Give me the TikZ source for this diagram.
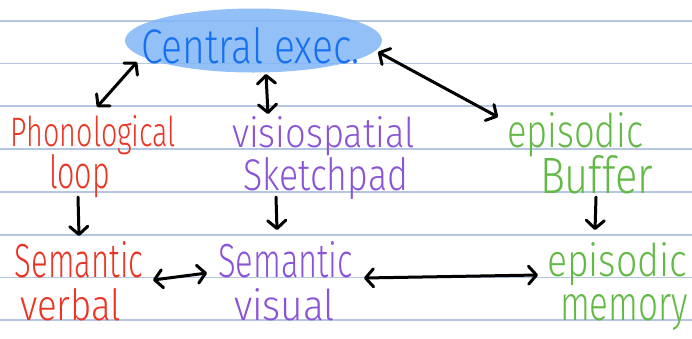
\documentclass[tikz,border=0pt]{standalone}
\usepackage{fontspec}
\setmainfont{Fira Sans Light}
\usetikzlibrary{arrows.meta,shapes.geometric,calc}
\definecolor{ruled}{RGB}{180,198,226}
\definecolor{blobfill}{RGB}{128,182,246}
\definecolor{execblue}{RGB}{22,112,240}
\definecolor{penred}{RGB}{234,52,36}
\definecolor{penpurple}{RGB}{138,84,214}
\definecolor{pengreen}{RGB}{99,185,70}
% word squeezed into a box of given width and height (pt)
\newcommand\hw[3]{\resizebox{#1pt}{#2pt}{#3}}
\begin{document}
\begin{tikzpicture}[x=1pt,y=-1pt,
  word/.style={anchor=base west, inner sep=0pt, outer sep=0pt},
  rule/.style={draw=ruled, line width=1.2pt},
  barb/.tip={Straight Barb[length=8pt,width=18pt,round]},
  link/.style={line width=3pt, line cap=round, line join=round, barb-barb},
  down/.style={line width=3pt, line cap=round, line join=round, -barb}]
\useasboundingbox (0,0) rectangle (692,338);
\clip (0,0) rectangle (692,338);

% ruled paper
\foreach \y in {21,63.5,106,149,192,235,277.5,320}
  \draw[rule] (0,\y) -- (692,\y);

% highlighted central executive
\node[ellipse, fill=blobfill, fill opacity=0.85, minimum width=257pt,
      minimum height=64pt, inner sep=0pt] (blob) at (253.5,40.5) {};
\node[word, text=execblue] (ce) at (141,63) {\hw{219}{36}{Central exec.}};

% second row
\node[word, text=penred] (phon) at (11,146) {\hw{165}{31}{Phonological}};
\node[word, text=penred] (loop) at (49,188) {\hw{61}{34}{loop}};
\node[word, text=penpurple] (visio) at (232,147) {\hw{183}{31}{visiospatial}};
\node[word, text=penpurple] (sketch) at (243,190) {\hw{165}{33}{Sketchpad}};
\node[word, text=pengreen] (epi) at (507,147) {\hw{136}{35}{episodic}};
\node[word, text=pengreen] (buffer) at (540,193) {\hw{113}{38}{Buffer}};

% third row
\node[word, text=penred] (semv) at (15,277) {\hw{128}{36}{Semantic}};
\node[word, text=penred] (verbal) at (20,320) {\hw{101}{32}{verbal}};
\node[word, text=penpurple] (semvis) at (218,277) {\hw{135}{36}{Semantic}};
\node[word, text=penpurple] (visual) at (234,320) {\hw{101}{32}{visual}};
\node[word, text=pengreen] (epimem) at (547,276) {\hw{140}{34}{episodic}};
\node[word, text=pengreen] (memory) at (560,320) {\hw{128}{26}{memory}};

% connectors
\draw[link] ($(blob.center)+(-116.5,21.5)$) -- ($(phon.base west)+(86,-39)$);
\draw[link] ($(blob.center)+(12.5,33.5)$) -- ($(visio.base west)+(36,-33)$);
\draw[link] ($(blob.center)+(124.5,11.5)$) -- ($(epi.base west)+(-9,-30)$);
\draw[down] ($(loop.base west)+(29,9)$) -- ($(semv.base west)+(64,-41)$);
\draw[down] ($(sketch.base west)+(33,7)$) -- ($(semvis.base west)+(59,-47)$);
\draw[down] ($(buffer.base west)+(56,4)$) -- ($(epimem.base west)+(48,-46)$);
\draw[link] ($(semv.base west)+(138,3)$) -- ($(semvis.base west)+(-11,-4)$);
\draw[link] ($(semvis.base west)+(146,1)$) -- ($(epimem.base west)+(-9,-1)$);
\end{tikzpicture}
\end{document}
